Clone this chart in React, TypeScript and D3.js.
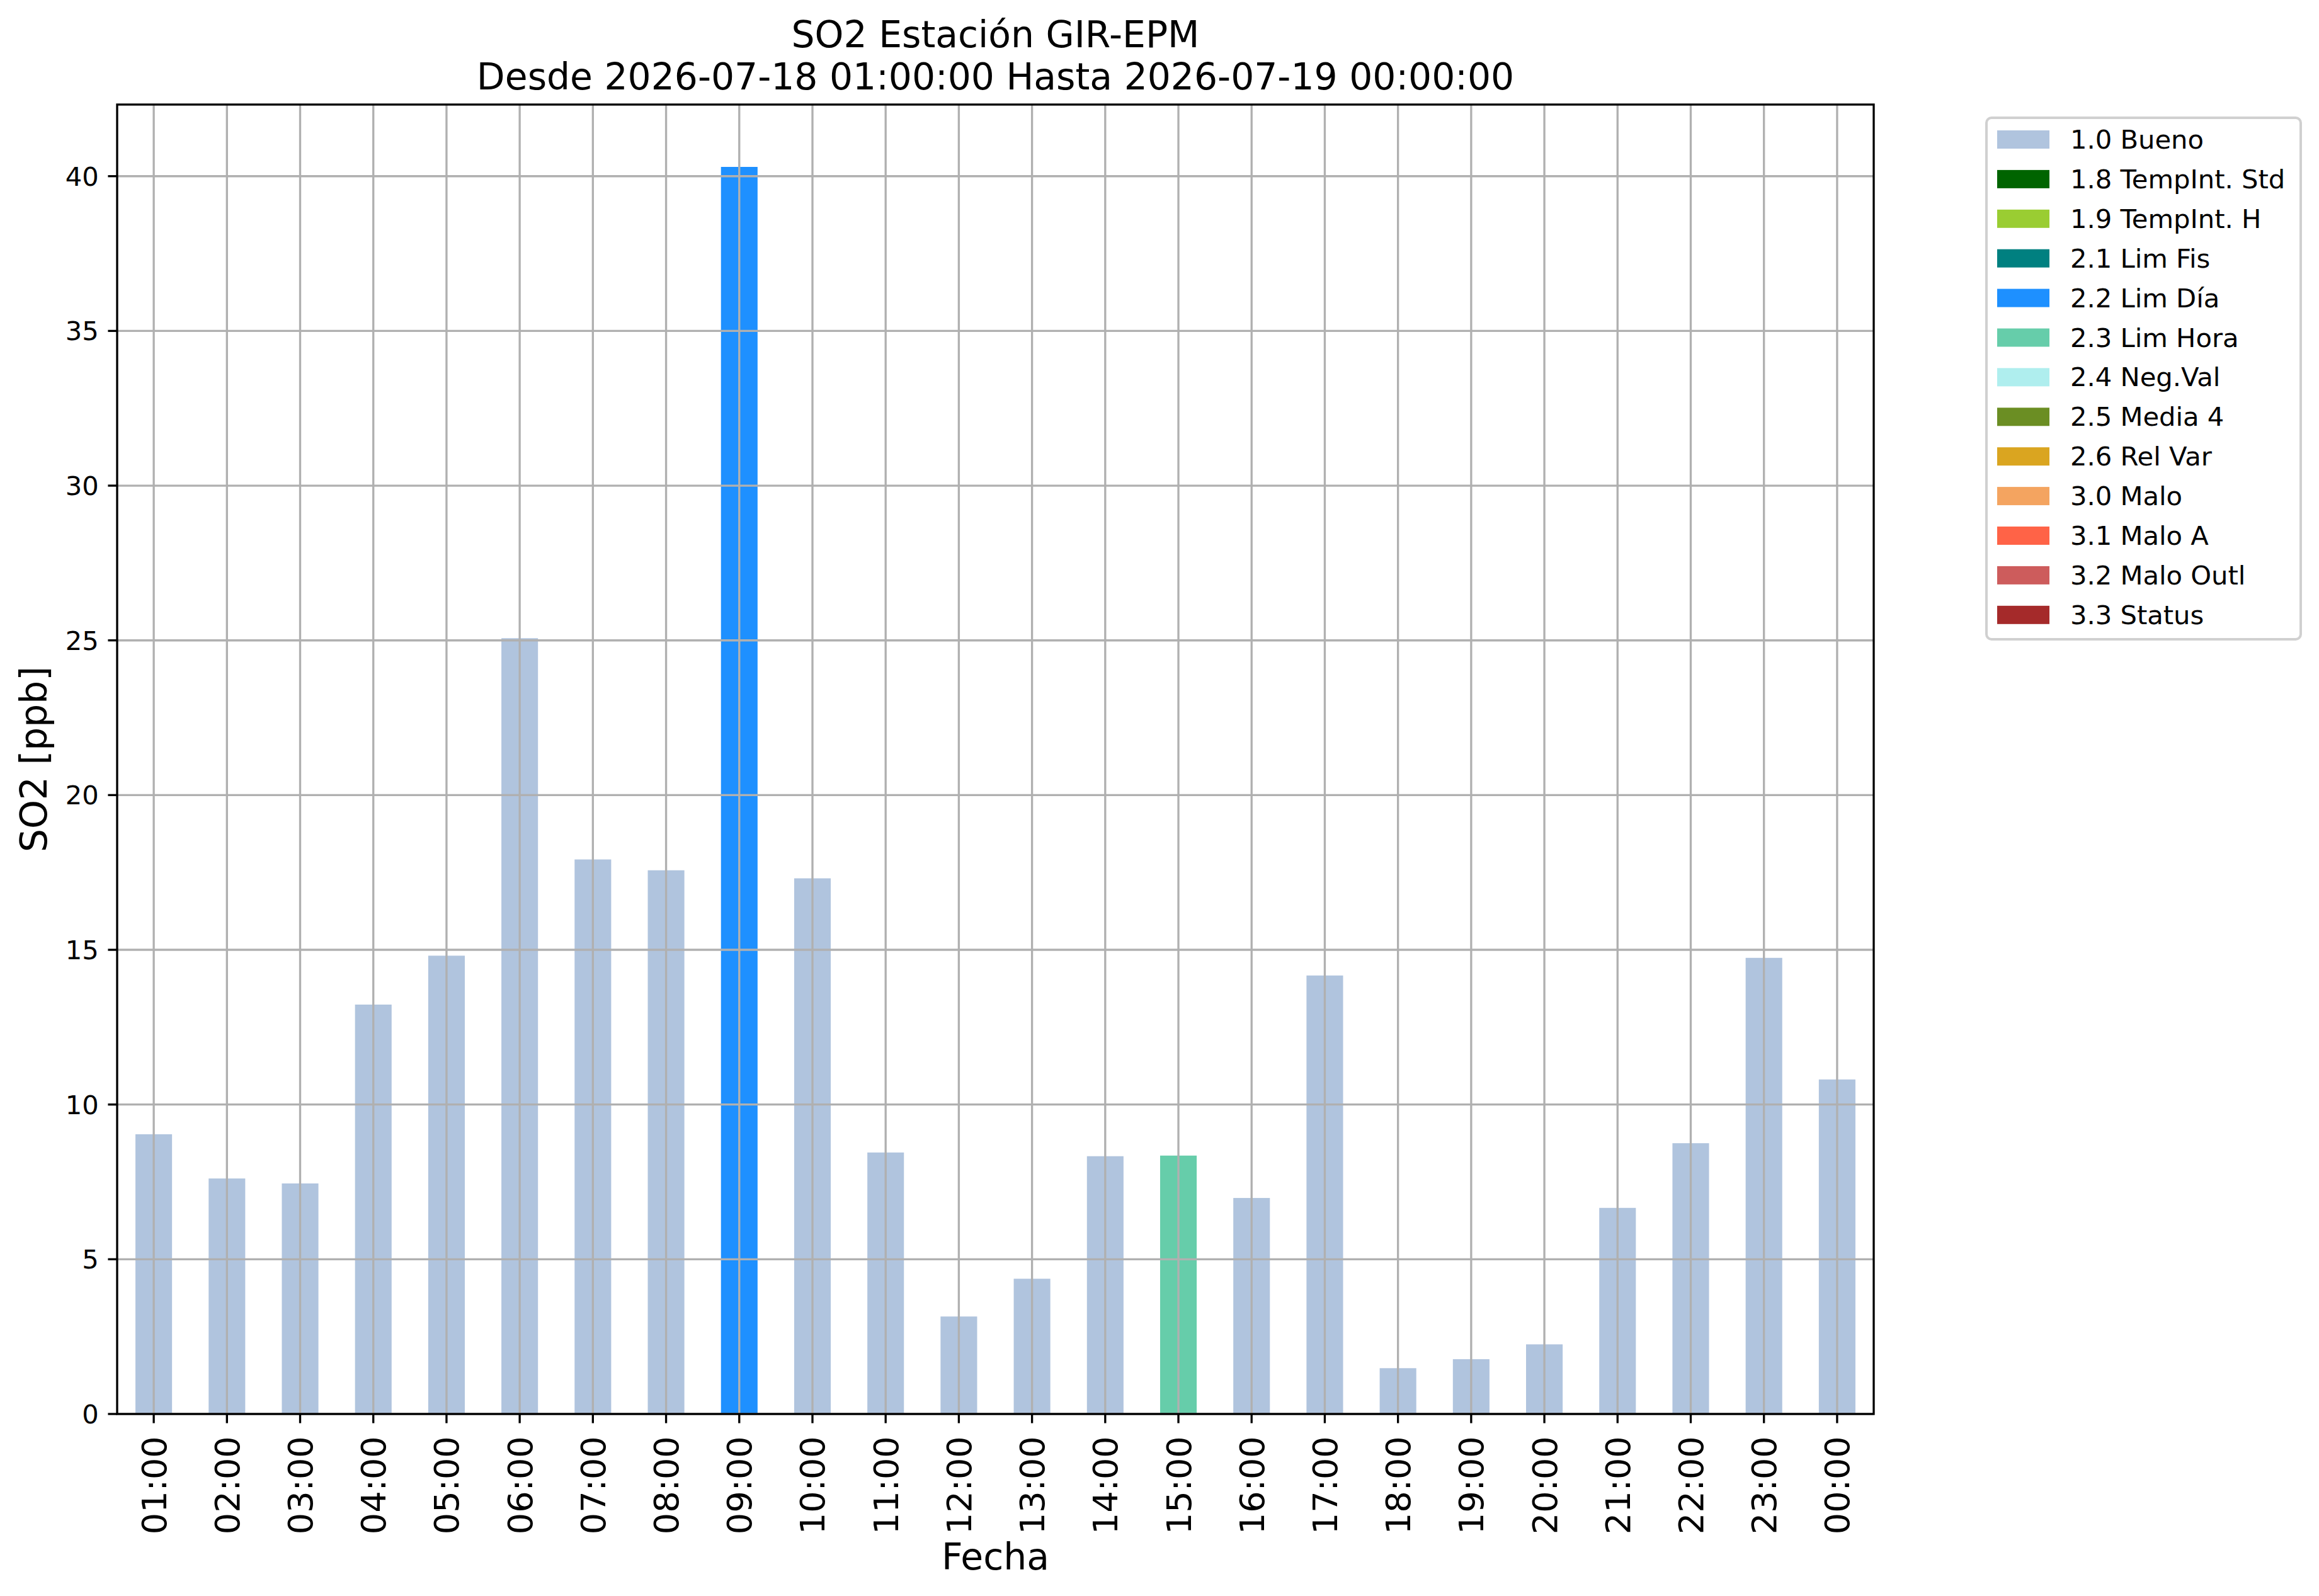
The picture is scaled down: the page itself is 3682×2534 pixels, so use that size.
import React from "react";
import * as d3 from "d3";

const hours = ["01:00","02:00","03:00","04:00","05:00","06:00","07:00","08:00","09:00","10:00","11:00","12:00","13:00","14:00","15:00","16:00","17:00","18:00","19:00","20:00","21:00","22:00","23:00","00:00"];
const so2Values = [9.04, 7.61, 7.45, 13.23, 14.81, 25.07, 17.92, 17.57, 40.3, 17.31, 8.45, 3.15, 4.37, 8.33, 8.35, 6.98, 14.17, 1.48, 1.77, 2.25, 6.66, 8.75, 14.74, 10.81];
const flags = ["1.0 Bueno","1.0 Bueno","1.0 Bueno","1.0 Bueno","1.0 Bueno","1.0 Bueno","1.0 Bueno","1.0 Bueno","2.2 Lim Día","1.0 Bueno","1.0 Bueno","1.0 Bueno","1.0 Bueno","1.0 Bueno","2.3 Lim Hora","1.0 Bueno","1.0 Bueno","1.0 Bueno","1.0 Bueno","1.0 Bueno","1.0 Bueno","1.0 Bueno","1.0 Bueno","1.0 Bueno"];
const legendLabels = ["1.0 Bueno","1.8 TempInt. Std","1.9 TempInt. H","2.1 Lim Fis","2.2 Lim Día","2.3 Lim Hora","2.4 Neg.Val","2.5 Media 4","2.6 Rel Var","3.0 Malo","3.1 Malo A","3.2 Malo Outl","3.3 Status"];
const legendColors = ["#B0C4DE","#006400","#9ACD32","#008080","#1E90FF","#66CDAA","#AFEEEE","#6B8E23","#DAA520","#F4A460","#FF6347","#CD5C5C","#A52A2A"];
const yTicks = [0, 5, 10, 15, 20, 25, 30, 35, 40];
const titleLines = ["SO2 Estación GIR-EPM", "Desde 2026-07-18 01:00:00 Hasta 2026-07-19 00:00:00"];
const xLabel = "Fecha";
const yLabel = "SO2 [ppb]";

const W = 3682;
const H = 2534;
const L = 186, R = 2975, T = 166, B = 2245;
const PT = 300 / 72;
const FONT = "'DejaVu Sans', sans-serif";

export default function App() {
  const color = d3.scaleOrdinal<string, string>().domain(legendLabels).range(legendColors);
  const x = d3.scaleBand<string>().domain(hours).range([L, R]).paddingInner(0.5).paddingOuter(0.25);
  const yMax = (d3.max(so2Values) as number) * 1.05;
  const y = d3.scaleLinear().domain([0, yMax]).range([B, T]);
  const lw = 0.8 * PT;
  const tickLen = 3.5 * PT;
  const grid = "#b0b0b0";

  const legX = 3154, legY = 187, legW = 499, legH = 828;
  const rowH = 62.9;

  return (
    <svg width={W} height={H} style={{ position: "absolute", left: 0, top: 0, display: "block", background: "#fff" }} fontFamily={FONT}>
      <rect x={0} y={0} width={W} height={H} fill="#fff" />
      {/* title */}
      {titleLines.map((t, i) => (
        <text key={t} x={(L + R) / 2} y={75 + i * 67} textAnchor="middle" fontSize={14 * PT} fill="#000">{t}</text>
      ))}
      {/* bars */}
      {so2Values.map((v, i) => (
        <rect key={hours[i]} x={x(hours[i])} y={y(v)} width={x.bandwidth()} height={B - y(v)} fill={color(flags[i])} />
      ))}
      {/* grid */}
      {hours.map((h) => {
        const cx = (x(h) as number) + x.bandwidth() / 2;
        return <line key={"gx" + h} x1={cx} x2={cx} y1={T} y2={B} stroke={grid} strokeWidth={lw} />;
      })}
      {yTicks.map((t) => (
        <line key={"gy" + t} x1={L} x2={R} y1={y(t)} y2={y(t)} stroke={grid} strokeWidth={lw} />
      ))}
      {/* spines */}
      <rect x={L} y={T} width={R - L} height={B - T} fill="none" stroke="#000" strokeWidth={lw} />
      {/* y ticks */}
      {yTicks.map((t) => (
        <g key={"yt" + t}>
          <line x1={L - tickLen} x2={L} y1={y(t)} y2={y(t)} stroke="#000" strokeWidth={lw} />
          <text x={L - tickLen - 3.5 * PT} y={y(t)} dy="0.36em" textAnchor="end" fontSize={10 * PT} fill="#000">{t}</text>
        </g>
      ))}
      {/* x ticks */}
      {hours.map((h) => {
        const cx = (x(h) as number) + x.bandwidth() / 2;
        return (
          <g key={"xt" + h}>
            <line x1={cx} x2={cx} y1={B} y2={B + tickLen} stroke="#000" strokeWidth={lw} />
            <text transform={`translate(${cx},${B + tickLen + 3.5 * PT + 6}) rotate(-90)`} dy="0.36em" textAnchor="end" fontSize={13 * PT} fill="#000">{h}</text>
          </g>
        );
      })}
      {/* axis labels */}
      <text x={(L + R) / 2} y={2492} textAnchor="middle" fontSize={14 * PT} fill="#000">{xLabel}</text>
      <text transform={`translate(74,${(T + B) / 2}) rotate(-90)`} textAnchor="middle" fontSize={14 * PT} fill="#000">{yLabel}</text>
      {/* legend */}
      <rect x={legX} y={legY} width={legW} height={legH} rx={8} ry={8} fill="#fff" fillOpacity={0.8} stroke="#d0d0d0" strokeWidth={4} />
      {legendLabels.map((lab, i) => {
        const base = 236 + i * rowH;
        return (
          <g key={lab}>
            <rect x={3171} y={base - 29} width={83} height={29} fill={legendColors[i]} />
            <text x={3287} y={base} fontSize={10 * PT} fill="#000">{lab}</text>
          </g>
        );
      })}
    </svg>
  );
}
